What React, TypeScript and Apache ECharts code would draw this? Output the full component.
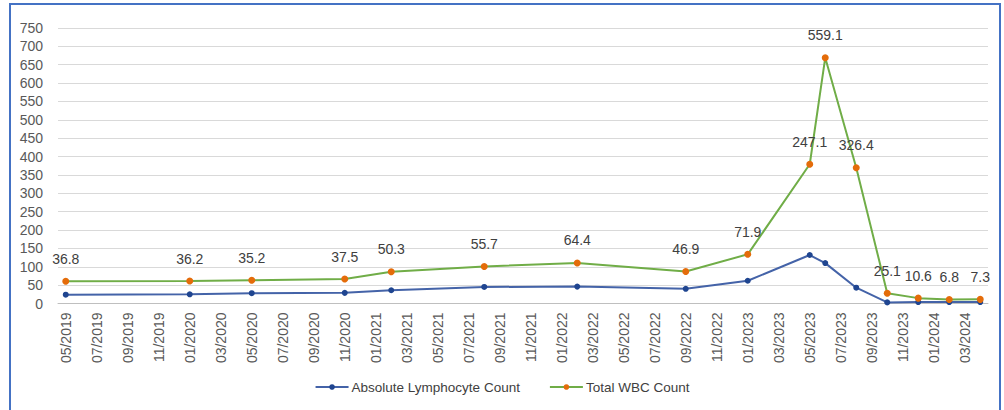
import React, { useEffect, useRef } from "react";
import * as echarts from "echarts";

// Month range of the category axis
const startMonth = { year: 2019, month: 5 };
const endMonth = { year: 2024, month: 4 };

// Measurement dates
const pointDates = [
  "05/2019", "01/2020", "05/2020", "11/2020", "02/2021", "08/2021", "02/2022", "09/2022",
  "01/2023", "05/2023", "06/2023", "08/2023", "10/2023", "12/2023", "02/2024", "04/2024",
];
// Absolute Lymphocyte Count
const lymphocyte = [24, 25, 28, 29, 36, 45, 46, 40, 62, 132, 110, 43, 3, 4, 4, 4];
// Total WBC Count (stacked on top of lymphocyte, as in the original)
const wbc = [36.8, 36.2, 35.2, 37.5, 50.3, 55.7, 64.4, 46.9, 71.9, 247.1, 559.1, 326.4, 25.1, 10.6, 6.8, 7.3];

const seriesNames = ["Absolute Lymphocyte Count", "Total WBC Count"];

function buildMonths(): string[] {
  const out: string[] = [];
  let y = startMonth.year;
  let m = startMonth.month;
  while (y < endMonth.year || (y === endMonth.year && m <= endMonth.month)) {
    out.push(String(m).padStart(2, "0") + "/" + y);
    m++;
    if (m > 12) { m = 1; y++; }
  }
  return out;
}

export default function App() {
  const ref = useRef<HTMLDivElement>(null);
  useEffect(() => {
    document.body.style.margin = "0";
    if (!ref.current) return;
    const chart = echarts.init(ref.current, null, { renderer: "svg" });
    const months = buildMonths();
    const toFull = (vals: number[]) =>
      months.map((mm) => {
        const i = pointDates.indexOf(mm);
        return i >= 0 ? vals[i] : null;
      });
    const font = "Liberation Sans";
    chart.setOption({
      animation: false,
      backgroundColor: "#ffffff",
      textStyle: { fontFamily: font },
      graphic: [
        {
          type: "rect",
          shape: { x: 10, y: 4, width: 990, height: 420 },
          style: { fill: "none", stroke: "#4472C4", lineWidth: 2 },
          silent: true,
        },
      ],
      grid: { left: 58, right: 16, top: 28, bottom: 106.5, containLabel: false },
      legend: {
        bottom: 11,
        left: "center",
        itemGap: 29,
        itemWidth: 33,
        itemHeight: 7,
        textStyle: { fontFamily: font, fontSize: 13.5, color: "#404040", padding: [0, 0, 0, -2] },
        data: seriesNames,
      },
      xAxis: {
        type: "category",
        data: months,
        boundaryGap: true,
        axisLine: { lineStyle: { color: "#BFBFBF", width: 1 } },
        axisTick: { interval: 1, length: 5, lineStyle: { color: "#BFBFBF" } },
        axisLabel: {
          interval: 1,
          rotate: 90,
          margin: 9,
          fontFamily: font,
          fontSize: 14,
          color: "#595959",
        },
      },
      yAxis: {
        type: "value",
        min: 0,
        max: 750,
        interval: 50,
        axisLine: { show: false },
        axisTick: { show: false },
        axisLabel: { margin: 15, fontFamily: font, fontSize: 14, color: "#595959" },
        splitLine: { lineStyle: { color: "#D9D9D9", width: 1 } },
      },
      series: [
        {
          name: seriesNames[0],
          type: "line",
          stack: "total",
          data: toFull(lymphocyte),
          connectNulls: true,
          symbol: "circle",
          symbolSize: 6,
          lineStyle: { color: "#4463A8", width: 2 },
          itemStyle: { color: "#1F4590" },
        },
        {
          name: seriesNames[1],
          type: "line",
          stack: "total",
          data: toFull(wbc),
          connectNulls: true,
          symbol: "circle",
          symbolSize: 7,
          lineStyle: { color: "#70AD47", width: 2 },
          itemStyle: { color: "#E46C0A" },
          label: {
            show: true,
            position: "top",
            distance: 12,
            fontFamily: font,
            fontSize: 14,
            color: "#404040",
            formatter: (p: any) => (p.value == null ? "" : Number(p.value).toFixed(1)),
          },
        },
      ],
    });
    return () => chart.dispose();
  }, []);
  return <div ref={ref} style={{ width: 1004, height: 410 }} />;
}
